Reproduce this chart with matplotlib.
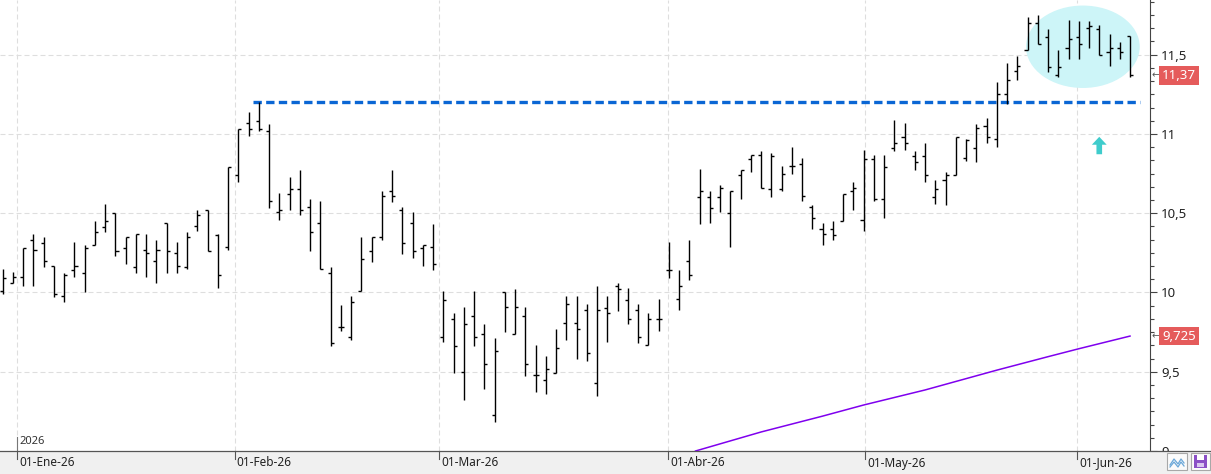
import numpy as np
import matplotlib.pyplot as plt
from matplotlib.patches import Ellipse, FancyArrow, Rectangle
from matplotlib.lines import Line2D
from matplotlib.ticker import MultipleLocator, FuncFormatter

plt.rcParams['font.family'] = ['Noto Sans', 'DejaVu Sans']

# daily bars, 30-Dic-25 .. 08-Jun-26 (index = trading day)
opens = [10.01, 10.06, 10.10, 10.33, 10.31, 10.17, 9.98, 10.14, 10.12, 10.30,
         10.41, 10.50, 10.28, 10.16, 10.27, 10.20, 10.44, 10.25, 10.16, 10.42,
         10.52, 10.36, 10.29, 10.74, 11.07, 11.08, 11.02, 10.51, 10.62, 10.65,
         10.54, 10.44, 10.12, 9.78, 9.72, 10.01, 10.26, 10.35, 10.64, 10.52,
         10.44, 10.28, 10.29, 9.72, 9.83, 9.50, 9.85, 9.74, 9.23, 10.00,
         9.74, 9.85, 9.48, 9.45, 9.49, 9.81, 9.81, 9.89, 9.43, 9.90,
         10.04, 9.95, 9.89, 9.67, 9.83, 10.14, 9.96, 10.20, 10.60, 10.60,
         10.60, 10.50, 10.74, 10.84, 10.87, 10.65, 10.65, 10.80, 10.81, 10.54,
         10.40, 10.40, 10.45, 10.64, 10.46, 10.84, 10.59, 10.91, 10.98, 10.86,
         10.86, 10.60, 10.71, 10.74, 10.85, 10.91, 11.05, 10.97, 11.25, 11.40,
         11.53, 11.70, 11.61, 11.37, 11.54, 11.61, 11.67, 11.66, 11.52, 11.54,
         11.62]
highs = [10.15, 10.13, 10.28, 10.37, 10.35, 10.17, 10.12, 10.32, 10.30, 10.45,
         10.56, 10.50, 10.35, 10.37, 10.37, 10.33, 10.44, 10.32, 10.38, 10.52,
         10.52, 10.37, 10.79, 11.03, 11.14, 11.20, 11.06, 10.63, 10.73, 10.77,
         10.59, 10.58, 10.16, 9.92, 9.98, 10.35, 10.35, 10.64, 10.77, 10.54,
         10.51, 10.30, 10.43, 10.01, 9.87, 9.91, 10.01, 9.80, 9.71, 10.00,
         10.02, 9.91, 9.67, 9.60, 9.77, 9.98, 9.98, 9.93, 10.04, 9.98,
         10.06, 10.03, 9.93, 9.87, 9.96, 10.32, 10.14, 10.33, 10.78, 10.64,
         10.68, 10.64, 10.77, 10.87, 10.89, 10.88, 10.80, 10.92, 10.85, 10.55,
         10.44, 10.45, 10.62, 10.70, 10.90, 10.87, 10.87, 11.09, 11.07, 10.89,
         10.94, 10.71, 10.76, 10.98, 10.97, 11.06, 11.10, 11.33, 11.45, 11.49,
         11.74, 11.75, 11.66, 11.53, 11.72, 11.71, 11.71, 11.69, 11.63, 11.58,
         11.62]
lows = [9.99, 10.06, 10.04, 10.04, 10.16, 9.97, 9.94, 10.10, 10.00, 10.30,
        10.38, 10.23, 10.18, 10.12, 10.10, 10.06, 10.12, 10.12, 10.15, 10.39,
        10.26, 10.03, 10.27, 10.70, 10.99, 11.02, 10.53, 10.46, 10.52, 10.49,
        10.26, 10.15, 9.66, 9.76, 9.70, 10.01, 10.19, 10.33, 10.57, 10.24,
        10.22, 10.17, 10.14, 9.69, 9.49, 9.32, 9.66, 9.39, 9.18, 9.75,
        9.74, 9.47, 9.37, 9.36, 9.49, 9.70, 9.58, 9.57, 9.35, 9.69,
        9.88, 9.80, 9.68, 9.67, 9.76, 10.09, 9.89, 10.08, 10.43, 10.44,
        10.51, 10.29, 10.59, 10.76, 10.66, 10.60, 10.64, 10.75, 10.58, 10.40,
        10.30, 10.33, 10.45, 10.52, 10.39, 10.58, 10.47, 10.89, 10.90, 10.77,
        10.70, 10.56, 10.55, 10.74, 10.83, 10.82, 10.94, 10.92, 11.19, 11.34,
        11.53, 11.57, 11.39, 11.36, 11.47, 11.47, 11.54, 11.50, 11.43, 11.47,
        11.36]
closes = [10.09, 10.10, 10.28, 10.27, 10.20, 9.99, 10.11, 10.17, 10.28, 10.38,
          10.45, 10.26, 10.35, 10.37, 10.25, 10.27, 10.26, 10.17, 10.35, 10.49,
          10.26, 10.11, 10.79, 11.03, 11.03, 11.03, 10.58, 10.52, 10.65, 10.52,
          10.38, 10.15, 9.68, 9.78, 9.94, 10.21, 10.35, 10.61, 10.61, 10.31,
          10.26, 10.30, 10.18, 9.95, 9.66, 9.80, 9.72, 9.55, 9.63, 9.91,
          9.91, 9.55, 9.48, 9.52, 9.65, 9.93, 9.77, 9.62, 9.89, 9.87,
          10.02, 9.83, 9.72, 9.83, 9.83, 10.14, 10.04, 10.11, 10.64, 10.53,
          10.66, 10.64, 10.77, 10.87, 10.66, 10.86, 10.75, 10.80, 10.61, 10.47,
          10.37, 10.36, 10.62, 10.66, 10.84, 10.59, 10.79, 10.94, 10.94, 10.82,
          10.74, 10.65, 10.74, 10.98, 10.96, 11.04, 10.98, 11.25, 11.34, 11.43,
          11.70, 11.57, 11.42, 11.42, 11.60, 11.57, 11.68, 11.50, 11.54, 11.52,
          11.37]

# long moving average (only the visible part)
ma_idx = [67.6, 74, 80, 84, 90, 97, 102, 105, 110]
ma_val = [9.00, 9.12, 9.22, 9.29, 9.385, 9.51, 9.595, 9.645, 9.725]

month_labels = ['01-Ene-26', '01-Feb-26', '01-Mar-26', '01-Abr-26', '01-May-26', '01-Jun-26']
month_pos = [1.4, 22.64, 42.6, 64.95, 84.17, 104.83]

resistance = 11.2
last_close = 11.37
last_ma = 9.725

W, H = 1211, 474
fig = plt.figure(figsize=(W / 100, H / 100), dpi=100, facecolor='#f0f0f0')
ax = fig.add_axes([0, 23 / H, 1150 / W, 451 / H], facecolor='white')
fig.patches.append(Rectangle((1150 / W, 23 / H), 61 / W, 451 / H, transform=fig.transFigure,
                             facecolor='white', edgecolor='none', zorder=-1))

x = np.arange(len(closes))
ax.set_xlim(-0.264, 111.95)
ax.set_ylim(9.0, 11.845)

# grid
for v in [9.5, 10, 10.5, 11, 11.5]:
    ax.axhline(v, color='#dedede', lw=0.8, ls=(0, (4.5, 2.7)), zorder=0)
for p in month_pos:
    ax.axvline(p, color='#dedede', lw=0.8, ls=(0, (4.5, 2.7)), zorder=0)

# highlight ellipse + resistance line
ax.add_patch(Ellipse((105.4, 11.55), 11.1, 0.52, facecolor='#cdf5f8', edgecolor='none', zorder=1))
ax.hlines(resistance, 24.4, 111.0, color='#0a66d4', lw=2.4, ls=(0, (2.5, 1.3)), zorder=3)
ax.add_patch(FancyArrow(107.0, 10.872, 0, 0.06, width=0.55, head_width=1.45, head_length=0.05,
                        length_includes_head=False, facecolor='#3fcccc', edgecolor='none', zorder=3))

# OHLC bars
ax.vlines(x, lows, highs, color='black', lw=1.0, zorder=4)
ax.hlines(opens, x - 0.3, x, color='black', lw=1.0, zorder=4)
ax.hlines(closes, x, x + 0.3, color='black', lw=1.0, zorder=4)

ax.plot(ma_idx, ma_val, color='#7f00ee', lw=1.1, zorder=4)

# year marker
ax.plot([month_pos[0], month_pos[0]], [9.0, 9.09], color='#777', lw=0.8)
ax.text(month_pos[0] + 0.25, 9.06, '2026', fontsize=8, color='#333', va='center')

# right axis
for s in ['left', 'top', 'bottom']:
    ax.spines[s].set_visible(False)
ax.spines['right'].set_color('#444')
ax.yaxis.tick_right()
ax.yaxis.set_major_locator(MultipleLocator(0.5))
ax.yaxis.set_minor_locator(MultipleLocator(0.5 / 6))
ax.yaxis.set_major_formatter(FuncFormatter(lambda v, p: f'{v:g}'.replace('.', ',')))
ax.tick_params(axis='y', which='major', length=5, width=0.8, color='#444', pad=3,
               labelsize=9.5, labelcolor='#222')
ax.tick_params(axis='y', which='minor', length=3, width=0.8, color='#444')
ax.set_xticks([])

for val, txt in [(last_close, '11,37'), (last_ma, '9,725')]:
    ax.text(1.0015, val, '←', transform=ax.get_yaxis_transform(), fontsize=7,
            color='#555', va='center', ha='left', family=['DejaVu Sans'])
    ax.text(1.0105, val, txt, transform=ax.get_yaxis_transform(), fontsize=9.5,
            color='white', va='center', ha='left',
            bbox=dict(boxstyle='square,pad=0.22', facecolor='#e55b5b', edgecolor='none'))

# date axis
for p, lab in zip(month_pos, month_labels):
    ax.plot([p, p], [0, -8 / 451], transform=ax.get_xaxis_transform(), color='#555',
            lw=0.8, clip_on=False)
    ax.text(p + 0.2, -12 / 451, lab, transform=ax.get_xaxis_transform(), fontsize=8.5,
            color='#222', va='center', ha='left', clip_on=False)

# cover under right axis, axis line, buttons
fig.patches.append(Rectangle((1150 / W, 0), 61 / W, 22.5 / H, transform=fig.transFigure,
                             facecolor='#f0f0f0', edgecolor='none', zorder=5))
fig.lines.append(Line2D([0, 1], [23 / H, 23 / H], transform=fig.transFigure, color='#555',
                        lw=0.9, zorder=6))
fig.patches.append(Rectangle((1167 / W, 4 / H), 20 / W, 17 / H, transform=fig.transFigure,
                             facecolor='#fbfbfb', edgecolor='#a8a8a8', lw=0.8, zorder=6))
fig.lines.append(Line2D(np.array([1170, 1174, 1178, 1181, 1184]) / W,
                        np.array([9, 15, 10, 15, 11]) / H, transform=fig.transFigure,
                        color='#6aa7d8', lw=0.9, zorder=7))
fig.lines.append(Line2D(np.array([1170, 1174, 1178, 1181, 1184]) / W,
                        np.array([7, 12, 7, 12, 8]) / H, transform=fig.transFigure,
                        color='#6aa7d8', lw=0.9, zorder=7))
fig.patches.append(Rectangle((1191 / W, 4 / H), 19 / W, 17 / H, transform=fig.transFigure,
                             facecolor='#fbfbfb', edgecolor='#a8a8a8', lw=0.8, zorder=6))
fig.patches.append(Rectangle((1194 / W, 6 / H), 13 / W, 13 / H, transform=fig.transFigure,
                             facecolor='#8b4fc6', edgecolor='none', zorder=7))
fig.patches.append(Rectangle((1197 / W, 14 / H), 7 / W, 5 / H, transform=fig.transFigure,
                             facecolor='white', edgecolor='none', zorder=8))
fig.patches.append(Rectangle((1197 / W, 7 / H), 7 / W, 4 / H, transform=fig.transFigure,
                             facecolor='#d9c6ef', edgecolor='none', zorder=8))

fig.savefig('out.png', dpi=100, facecolor=fig.get_facecolor())
